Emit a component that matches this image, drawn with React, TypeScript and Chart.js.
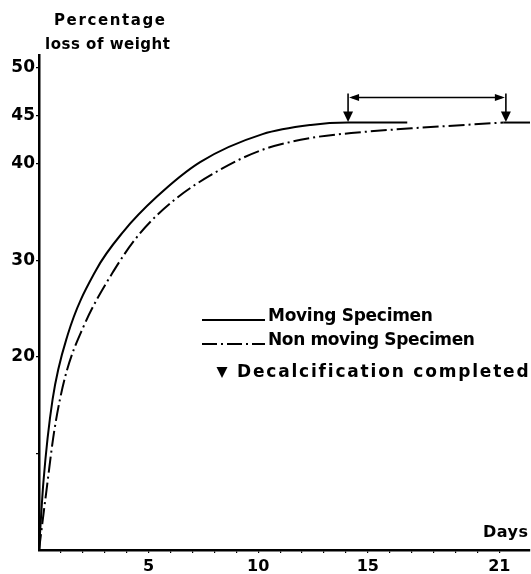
import React, { useEffect, useRef } from 'react';
import { Chart, registerables } from 'chart.js';

Chart.register(...registerables);

// ---- data ----
const movingDays = [0, 0.2, 0.62, 1.31, 2.6, 3.85, 5.37, 7.35, 10.2, 12.4, 14.1, 16.8];
const movingLoss = [0, 7, 15.6, 22.3, 29, 33, 36.6, 40.2, 43.1, 44.05, 44.3, 44.3];

const nonMovingDays = [0, 0.32, 0.7, 1.2, 2.0, 3.4, 4.6, 6.13, 8.1, 10.1, 12.4, 14.7, 17, 21.2];
const nonMovingLoss = [0, 5.8, 12.4, 18, 23, 28.9, 32.8, 36.2, 39.2, 41.4, 42.7, 43.3, 43.7, 44.3];

const tailDays = [21.2, 22.4];
const tailLoss = [44.3, 44.3];

const decalDays = [14.1, 21.3];
const decalLoss = 44.3;
const spanLoss = 46.9;
const arrowTopLoss = 47.3;

const yTicks = [10, 20, 30, 40, 45, 50];
const yTickLabels = ['', '20', '30', '40', '45', '50'];
const xTicks = [1, 2, 3, 4, 5, 6, 7, 8, 9, 10, 11, 12, 13, 14, 15, 16, 17, 18, 19, 20, 21];
const xTickLabels = ['', '', '', '', '5', '', '', '', '', '10', '', '', '', '', '15', '', '', '', '', '', '21'];

const titleLines = ['Percentage', 'loss of weight'];
const xTitle = 'Days';
const legendLabels = ['Moving Specimen', 'Non moving Specimen', 'Decalcification completed'];

const FONT = '"DejaVu Sans", sans-serif';

function fitText(ctx: CanvasRenderingContext2D, text: string, left: number, cy: number, width: number, font: string) {
  ctx.font = font;
  (ctx as any).letterSpacing = '0px';
  const w = ctx.measureText(text).width;
  const n = text.length;
  const ls = n > 1 ? (width - w) / (n - 1) : 0;
  (ctx as any).letterSpacing = ls.toFixed(2) + 'px';
  ctx.textAlign = 'left';
  ctx.textBaseline = 'middle';
  ctx.fillText(text, left, cy);
  (ctx as any).letterSpacing = '0px';
}

const extras = {
  id: 'extras',
  afterDatasetsDraw(chart: any) {
    const ctx: CanvasRenderingContext2D = chart.ctx;
    const xs = chart.scales.x;
    const ys = chart.scales.y;
    ctx.save();
    ctx.fillStyle = '#000';
    ctx.strokeStyle = '#000';

    // decalcification arrows
    const yCurve = ys.getPixelForValue(decalLoss);
    const ySpan = ys.getPixelForValue(spanLoss);
    const yTop = ys.getPixelForValue(arrowTopLoss);
    decalDays.forEach((d) => {
      const px = xs.getPixelForValue(d);
      ctx.lineWidth = 1.6;
      ctx.beginPath();
      ctx.moveTo(px, yTop);
      ctx.lineTo(px, yCurve - 8);
      ctx.stroke();
      ctx.beginPath();
      ctx.moveTo(px - 5, yCurve - 11);
      ctx.lineTo(px + 5, yCurve - 11);
      ctx.lineTo(px, yCurve - 0.5);
      ctx.closePath();
      ctx.fill();
    });
    const x1 = xs.getPixelForValue(decalDays[0]);
    const x2 = xs.getPixelForValue(decalDays[1]);
    ctx.lineWidth = 1.4;
    ctx.beginPath();
    ctx.moveTo(x1 + 4, ySpan);
    ctx.lineTo(x2 - 4, ySpan);
    ctx.stroke();
    ctx.beginPath();
    ctx.moveTo(x1 + 1, ySpan);
    ctx.lineTo(x1 + 11, ySpan - 3.5);
    ctx.lineTo(x1 + 11, ySpan + 3.5);
    ctx.closePath();
    ctx.fill();
    ctx.beginPath();
    ctx.moveTo(x2 - 1, ySpan);
    ctx.lineTo(x2 - 11, ySpan - 3.5);
    ctx.lineTo(x2 - 11, ySpan + 3.5);
    ctx.closePath();
    ctx.fill();

    // titles
    fitText(ctx, titleLines[0], 54, 21, 111, `bold 15px ${FONT}`);
    fitText(ctx, titleLines[1], 45, 45, 125, `bold 15px ${FONT}`);
    fitText(ctx, xTitle, 483, 533, 45, `bold 16px ${FONT}`);

    // legend
    ctx.lineWidth = 2;
    ctx.setLineDash([]);
    ctx.beginPath();
    ctx.moveTo(202, 320);
    ctx.lineTo(265, 320);
    ctx.stroke();
    ctx.setLineDash([15, 4, 2, 4]);
    ctx.beginPath();
    ctx.moveTo(202, 344);
    ctx.lineTo(265, 344);
    ctx.stroke();
    ctx.setLineDash([]);
    ctx.beginPath();
    ctx.moveTo(216.5, 367);
    ctx.lineTo(227.5, 367);
    ctx.lineTo(222, 378);
    ctx.closePath();
    ctx.fill();
    fitText(ctx, legendLabels[0], 268, 317, 165, `bold 17px ${FONT}`);
    fitText(ctx, legendLabels[1], 268, 341, 207, `bold 17px ${FONT}`);
    fitText(ctx, legendLabels[2], 237, 373, 291, `bold 17px ${FONT}`);

    ctx.restore();
  },
};

export default function App() {
  const ref = useRef<HTMLCanvasElement | null>(null);

  useEffect(() => {
    if (!ref.current) return;
    const toXY = (xsArr: number[], ysArr: number[]) => xsArr.map((x, i) => ({ x, y: ysArr[i] }));
    const chart = new Chart(ref.current, {
      type: 'line',
      data: {
        datasets: [
          {
            label: legendLabels[0],
            data: toXY(movingDays, movingLoss),
            borderColor: '#000',
            borderWidth: 2,
            pointRadius: 0,
            fill: false,
            cubicInterpolationMode: 'monotone',
          },
          {
            label: legendLabels[1],
            data: toXY(nonMovingDays, nonMovingLoss),
            borderColor: '#000',
            borderWidth: 2,
            borderDash: [16, 4, 2, 4],
            pointRadius: 0,
            fill: false,
            cubicInterpolationMode: 'monotone',
          },
          {
            label: 'tail',
            data: toXY(tailDays, tailLoss),
            borderColor: '#000',
            borderWidth: 2,
            pointRadius: 0,
            fill: false,
          },
        ],
      },
      options: {
        responsive: false,
        animation: false,
        layout: { padding: { top: 55, right: 1, left: 0, bottom: 0 } },
        plugins: { legend: { display: false }, tooltip: { enabled: false }, title: { display: false } },
        scales: {
          x: {
            type: 'linear',
            min: 0,
            max: 22.4,
            afterBuildTicks: (axis: any) => {
              axis.ticks = xTicks.map((v) => ({ value: v }));
            },
            afterFit: (scale: any) => {
              scale.height = 24;
            },
            ticks: {
              autoSkip: false,
              maxRotation: 0,
              padding: 4,
              color: '#000',
              font: { family: FONT, size: 16, weight: 'bold' },
              callback: (v: any) => {
                const i = xTicks.indexOf(Number(v));
                return i >= 0 ? xTickLabels[i] : '';
              },
            },
            grid: { drawOnChartArea: false, drawTicks: true, tickLength: 3, color: '#000', lineWidth: 1.2 },
            border: { display: true, color: '#000', width: 2.5 },
          },
          y: {
            type: 'linear',
            min: 0,
            max: 51.3,
            afterBuildTicks: (axis: any) => {
              axis.ticks = yTicks.map((v) => ({ value: v }));
            },
            afterFit: (scale: any) => {
              scale.width = 39;
            },
            ticks: {
              padding: 1,
              color: '#000',
              font: { family: FONT, size: 17, weight: 'bold' },
              callback: (v: any) => {
                const i = yTicks.indexOf(Number(v));
                return i >= 0 ? yTickLabels[i] : '';
              },
            },
            grid: { drawOnChartArea: false, drawTicks: true, tickLength: 3, color: '#000', lineWidth: 1.2 },
            border: { display: true, color: '#000', width: 2.5 },
          },
        },
      },
      plugins: [extras],
    } as any);
    return () => chart.destroy();
  }, []);

  return (
    <div style={{ position: 'fixed', left: 0, top: 0, width: 531, height: 574, background: '#fff' }}>
      <canvas ref={ref} width={531} height={574} style={{ display: 'block' }} />
    </div>
  );
}
